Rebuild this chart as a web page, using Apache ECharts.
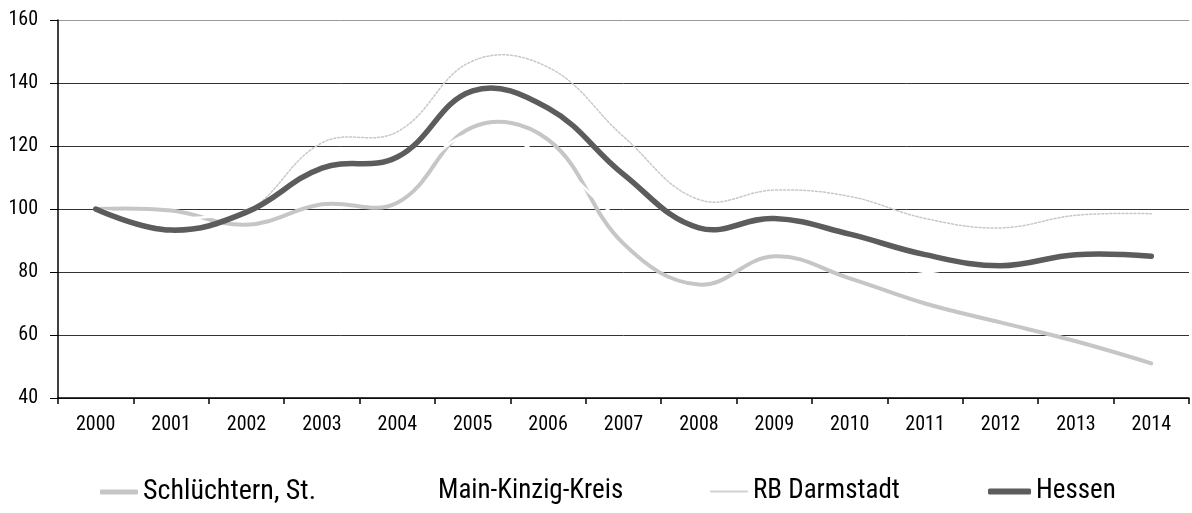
<!DOCTYPE html>
<html>
<head>
<meta charset="utf-8">
<script src="https://cdn.jsdelivr.net/npm/echarts@6/dist/echarts.min.js"></script>
<style>html,body{margin:0;padding:0;background:#fff}#c{width:1192px;height:513px}</style>
</head>
<body>
<div id="c"></div>
<script>
var years = ['2000','2001','2002','2003','2004','2005','2006','2007','2008','2009','2010','2011','2012','2013','2014'];
var schluechtern = [100, 99.5, 95, 101.5, 102, 126, 122, 89, 76, 85, 78, 70, 64, 58, 51];
var mainKinzig = [100, 97, 99.5, 106, 108, 124, 116, 96, 85, 88, 84, 80, 77, 76, 74];
var rbDarmstadt = [100, 94, 99, 121, 124.5, 147, 145, 123, 103, 106, 104, 97, 94, 98, 98.5];
var hessen = [100, 93.3, 99, 113, 116.5, 137.5, 132, 111, 94, 97, 92, 85.5, 82, 85.5, 85];
var yTicks = {min: 40, max: 160, interval: 20};

var FONT = '"Liberation Sans Narrow", "Arial Narrow", "Roboto Condensed", "Liberation Sans", Arial, sans-serif';
var chart = echarts.init(document.getElementById('c'), null, {renderer: 'canvas'});

function legendAt(name, left, w, h, color, fs) {
  return {
    data: [{name: name, icon: 'roundRect', itemStyle: {color: color, borderWidth: 0}}],
    left: left, top: 473,
    itemWidth: w, itemHeight: h,
    textStyle: {fontFamily: FONT, fontSize: fs || 27, color: '#000'},
    selectedMode: false
  };
}

function curveSeries(name, values, color, style, z) {
  return {
    name: name,
    type: 'custom',
    coordinateSystem: 'cartesian2d',
    z: z,
    silent: true,
    itemStyle: {color: color},
    data: [[0, values[0]]],
    encode: {x: 0, y: 1},
    renderItem: function (params, api) {
      var pts = values.map(function (v, i) { return api.coord([i, v]); });
      return {
        type: 'polyline',
        shape: {points: pts, smooth: 0.4},
        style: Object.assign({fill: 'none', lineJoin: 'round', lineCap: 'round'}, style)
      };
    }
  };
}

chart.setOption({
  animation: false,
  backgroundColor: '#fff',
  grid: {left: 58, right: 3, top: 20, bottom: 115, containLabel: false},
  legend: [
    legendAt('Schlüchtern, St.', 95, 38, 5, '#c6c6c6', 28),
    legendAt('Main-Kinzig-Kreis', 390, 38, 3, '#ffffff'),
    legendAt('RB Darmstadt', 705, 38, 2, '#d2d2d2'),
    legendAt('Hessen', 983, 43, 6, '#5c5c5c')
  ],
  xAxis: {
    type: 'category',
    data: years,
    boundaryGap: true,
    axisLine: {show: true, lineStyle: {color: '#000', width: 1.5}},
    axisTick: {show: true, length: 6, lineStyle: {color: '#000', width: 1.5}},
    axisLabel: {fontFamily: FONT, fontSize: 20, color: '#000', margin: 17},
    splitLine: {show: false}
  },
  yAxis: {
    type: 'value',
    min: yTicks.min, max: yTicks.max, interval: yTicks.interval,
    axisLine: {show: true, lineStyle: {color: '#000', width: 1.5}},
    axisTick: {show: true, length: 8, lineStyle: {color: '#000', width: 1}},
    axisLabel: {fontFamily: FONT, fontSize: 20, color: '#000', margin: 20},
    splitLine: {show: true, lineStyle: {color: ['#333', '#333', '#333', '#333', '#333', '#333', '#999'], width: 1}}
  },
  series: [
    curveSeries('Schlüchtern, St.', schluechtern, '#c6c6c6', {stroke: '#c6c6c6', lineWidth: 4}, 2),
    curveSeries('Main-Kinzig-Kreis', mainKinzig, '#ffffff', {stroke: '#ffffff', lineWidth: 2.5}, 3),
    curveSeries('RB Darmstadt', rbDarmstadt, '#d2d2d2', {stroke: '#c8c8c8', lineWidth: 1.5, lineDash: [2, 2]}, 4),
    curveSeries('Hessen', hessen, '#5c5c5c', {stroke: '#5c5c5c', lineWidth: 5.5}, 5)
  ]
});
</script>
</body>
</html>
